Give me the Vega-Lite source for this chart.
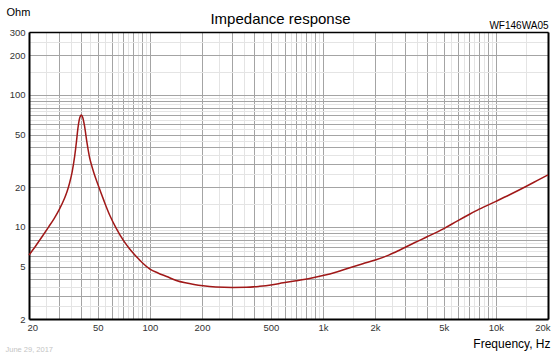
{
  "$schema": "https://vega.github.io/schema/vega-lite/v6.json",
  "width": 519,
  "height": 287,
  "autosize": "none",
  "padding": {"left": 29, "top": 32, "right": 12, "bottom": 35},
  "background": "white",
  "config": {"view": {"stroke": null}, "font": "Liberation Sans"},
  "title": {"text": "Impedance response", "fontSize": 15, "fontWeight": "normal", "color": "#000", "anchor": "middle", "frame": "group", "dx": -8, "dy": 27, "offset": 6},
  "data": {"values": [
    {"f": 20, "z": 6.1}, {"f": 22, "z": 7.25}, {"f": 24, "z": 8.55}, {"f": 26, "z": 10.0},
    {"f": 28, "z": 11.6}, {"f": 30, "z": 13.6}, {"f": 32, "z": 16.3}, {"f": 33.2, "z": 18.5},
    {"f": 34.3, "z": 21.4}, {"f": 35.5, "z": 26}, {"f": 36.7, "z": 34}, {"f": 37.6, "z": 44},
    {"f": 38.3, "z": 55}, {"f": 39, "z": 64.5}, {"f": 39.7, "z": 69.5}, {"f": 40.2, "z": 70.5},
    {"f": 40.9, "z": 67.5}, {"f": 41.9, "z": 58}, {"f": 43.2, "z": 44}, {"f": 44.8, "z": 33.5},
    {"f": 46, "z": 29.3}, {"f": 47.5, "z": 25.5}, {"f": 50, "z": 21.0}, {"f": 54, "z": 16.0},
    {"f": 58.5, "z": 12.3}, {"f": 64, "z": 9.7}, {"f": 69.8, "z": 8.0}, {"f": 76, "z": 6.85},
    {"f": 83.4, "z": 5.95}, {"f": 91, "z": 5.3}, {"f": 100, "z": 4.78}, {"f": 112, "z": 4.45},
    {"f": 125, "z": 4.2}, {"f": 142, "z": 3.92}, {"f": 160, "z": 3.76}, {"f": 180, "z": 3.65},
    {"f": 203, "z": 3.57}, {"f": 240, "z": 3.5}, {"f": 300, "z": 3.47}, {"f": 360, "z": 3.48},
    {"f": 430, "z": 3.54}, {"f": 500, "z": 3.62}, {"f": 590, "z": 3.76}, {"f": 700, "z": 3.9},
    {"f": 850, "z": 4.08}, {"f": 1000, "z": 4.27}, {"f": 1200, "z": 4.55}, {"f": 1430, "z": 4.9},
    {"f": 1700, "z": 5.25}, {"f": 2030, "z": 5.62}, {"f": 2400, "z": 6.1}, {"f": 2800, "z": 6.7},
    {"f": 3400, "z": 7.6}, {"f": 4000, "z": 8.4}, {"f": 5000, "z": 9.7}, {"f": 6000, "z": 11.1},
    {"f": 7000, "z": 12.4}, {"f": 8000, "z": 13.6}, {"f": 10000, "z": 15.6}, {"f": 12000, "z": 17.5},
    {"f": 15000, "z": 20.3}, {"f": 17500, "z": 22.6}, {"f": 20000, "z": 24.8}
  ]},
  "layer": [
    {
      "mark": {"type": "line", "color": "#a01818", "strokeWidth": 1.5, "interpolate": "monotone"},
      "encoding": {
        "x": {"field": "f", "type": "quantitative",
          "scale": {"type": "log", "domain": [20, 20000], "nice": false},
          "axis": {"orient": "bottom", "title": "Frequency, Hz", "titleFontSize": 12, "titleFontWeight": "normal", "titleColor": "#000",
            "titleAnchor": "end", "titleAlign": "right", "titleBaseline": "middle", "titleX": 521, "titleY": 24,
            "values": [20,25,30,35,40,45,50,55,60,65,70,75,80,85,90,95,100,150,200,250,300,350,400,450,500,550,600,650,700,750,800,850,900,950,1000,1500,2000,2500,3000,3500,4000,4500,5000,5500,6000,6500,7000,7500,8000,8500,9000,9500,10000,15000,20000],
            "labelExpr": "indexof([20,50,100,200,500,1000,2000,5000,10000,20000], datum.value) >= 0 ? (datum.value >= 1000 ? (datum.value/1000) + 'k' : '' + datum.value) : ''",
            "labelOverlap": false, "labelFlush": true, "labelFlushOffset": 2, "labelFontSize": 9.5, "labelColor": "#333", "labelPadding": 3,
            "ticks": false, "tickSize": 0, "domainColor": "#000", "domainWidth": 2,
            "grid": true, "gridWidth": 1,
            "gridColor": {"condition": {"test": "abs(datum.value/pow(10,floor(log(datum.value)/LN10)) - round(datum.value/pow(10,floor(log(datum.value)/LN10)))) < 0.01", "value": "#a4a4a4"}, "value": "#e4e4e4"}}},
        "y": {"field": "z", "type": "quantitative",
          "scale": {"type": "log", "domain": [2, 300], "nice": false},
          "axis": {"orient": "left", "title": "Ohm", "titleAngle": 0, "titleFontSize": 11, "titleFontWeight": "normal", "titleColor": "#000",
            "titleAlign": "left", "titleBaseline": "middle", "titleX": -23, "titleY": -20,
            "values": [2,2.5,3,3.5,4,4.5,5,5.5,6,6.5,7,7.5,8,8.5,9,9.5,10,15,20,25,30,35,40,45,50,55,60,65,70,75,80,85,90,95,100,150,200,250,300],
            "labelExpr": "indexof([2,5,10,20,50,100,200,300], datum.value) >= 0 ? '' + datum.value : ''",
            "labelOverlap": false, "labelFlush": false, "labelFontSize": 9.5, "labelColor": "#333", "labelPadding": 4,
            "ticks": false, "tickSize": 0, "domainColor": "#000", "domainWidth": 2,
            "grid": true, "gridWidth": 1,
            "gridColor": {"condition": {"test": "abs(datum.value/pow(10,floor(log(datum.value)/LN10)) - round(datum.value/pow(10,floor(log(datum.value)/LN10)))) < 0.01", "value": "#a4a4a4"}, "value": "#e4e4e4"}}}
      }
    },
    {
      "mark": {"type": "line", "opacity": 0},
      "encoding": {
        "x": {"field": "f", "type": "quantitative",
          "scale": {"type": "log", "domain": [20, 20000], "nice": false},
          "axis": {"orient": "top", "title": "WF146WA05", "titleFontSize": 10, "titleFontWeight": "normal", "titleColor": "#000",
            "titleAnchor": "end", "titleAlign": "right", "titleBaseline": "alphabetic", "titleX": 519, "titleY": -4,
            "labels": false, "ticks": false, "grid": false, "domainColor": "#000", "domainWidth": 1.5}},
        "y": {"field": "z", "type": "quantitative",
          "scale": {"type": "log", "domain": [2, 300], "nice": false},
          "axis": {"orient": "right", "title": "June 29, 2017", "titleAngle": 0, "titleFontSize": 7.5, "titleFontWeight": "normal", "titleColor": "#c4c4c4",
            "titleAlign": "left", "titleBaseline": "middle", "titleX": -543, "titleY": 317,
            "labels": false, "ticks": false, "grid": false, "domainColor": "#000", "domainWidth": 2}}
      }
    }
  ],
  "resolve": {"axis": {"x": "independent", "y": "independent"}}
}
